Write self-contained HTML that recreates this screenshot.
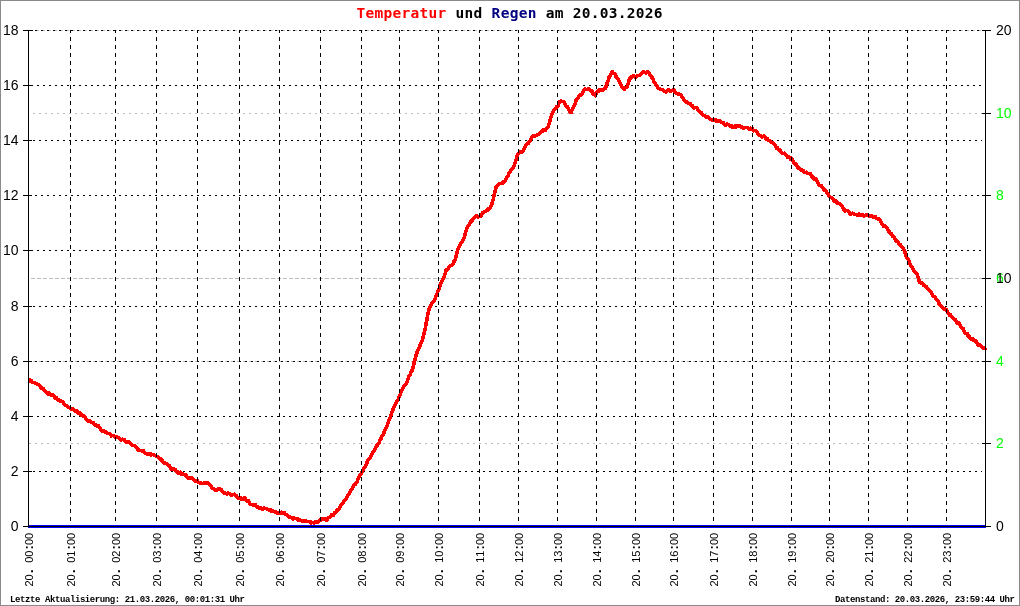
<!DOCTYPE html>
<html lang="de"><head><meta charset="utf-8"><title>Temperatur und Regen am 20.03.2026</title>
<style>
html,body{margin:0;padding:0;background:#fff;}
body{width:1020px;height:606px;overflow:hidden;}
svg{display:block;will-change:transform;}
.ax{font-family:"Liberation Sans",sans-serif;font-size:14px;fill:#000;}
.xl{white-space:pre;font-family:"Liberation Sans",sans-serif;font-size:11px;fill:#000;}
.pp{font-weight:bold;font-size:13px;}
.ti{font-family:"DejaVu Sans Mono","Liberation Mono",monospace;font-weight:bold;font-size:14.5px;}
.ft{font-family:"Liberation Mono","DejaVu Sans Mono",monospace;font-weight:bold;font-size:9px;fill:#000;}
</style></head><body>
<svg width="1020" height="606" viewBox="0 0 1020 606">
<rect x="0" y="0" width="1020" height="606" fill="#fff"/>
<g shape-rendering="crispEdges" fill="none">
<rect x="0.5" y="0.5" width="1019" height="605" stroke="#8a8a8a"/>

<g stroke="#bcbcbc" stroke-width="1">
<line x1="37" y1="30.5" x2="985" y2="30.5" stroke-dasharray="2 4"/>
<line x1="33" y1="113.5" x2="985" y2="113.5" stroke-dasharray="2 4"/>
<line x1="35" y1="195.5" x2="985" y2="195.5" stroke-dasharray="2 4"/>
<line x1="31" y1="278.5" x2="985" y2="278.5" stroke-dasharray="4 2"/>
<line x1="33" y1="361.5" x2="985" y2="361.5" stroke-dasharray="2 4"/>
<line x1="29" y1="443.5" x2="985" y2="443.5" stroke-dasharray="2 4"/>
</g>
<g stroke="#000" stroke-width="1" stroke-dasharray="2 4">
<line x1="33" y1="471.5" x2="982" y2="471.5"/>
<line x1="31" y1="416.5" x2="982" y2="416.5"/>
<line x1="35" y1="361.5" x2="982" y2="361.5"/>
<line x1="33" y1="306.5" x2="982" y2="306.5"/>
<line x1="31" y1="250.5" x2="982" y2="250.5"/>
<line x1="35" y1="195.5" x2="982" y2="195.5"/>
<line x1="33" y1="140.5" x2="982" y2="140.5"/>
<line x1="31" y1="85.5" x2="982" y2="85.5"/>
<line x1="35" y1="30.5" x2="982" y2="30.5"/>
</g>
</g>
<polyline points="28.3,379.6 29.3,379.7 30.3,381.1 31.3,380.8 32.3,382.0 33.3,382.4 34.3,382.3 35.3,383.6 36.3,383.4 37.3,384.6 38.3,384.8 39.3,385.4 40.3,386.7 41.3,388.5 42.3,388.2 43.3,388.7 44.3,390.2 45.3,391.9 46.3,392.2 47.3,392.4 48.3,394.0 49.3,393.1 50.3,394.9 51.3,394.8 52.3,394.9 53.3,395.3 54.3,396.3 55.3,398.1 56.3,397.8 57.3,399.0 58.3,400.0 59.3,400.3 60.3,401.3 61.3,401.1 62.3,401.6 63.3,402.5 64.3,404.4 65.3,405.0 66.3,405.5 67.3,406.7 68.3,407.4 69.3,407.4 70.3,408.7 71.3,409.3 72.3,408.7 73.3,409.5 74.3,409.9 75.3,411.1 76.3,411.4 77.3,411.1 78.3,413.1 79.3,412.5 80.3,413.5 81.3,415.1 82.3,414.9 83.3,416.1 84.3,416.1 85.3,418.0 86.3,419.4 87.3,419.9 88.3,421.0 89.3,420.5 90.3,421.5 91.3,422.0 92.3,422.5 93.3,422.8 94.3,424.0 95.3,425.1 96.3,425.2 97.3,426.1 98.3,425.8 99.3,427.5 100.3,428.6 101.3,430.3 102.3,431.0 103.3,430.7 104.3,431.2 105.3,432.4 106.3,431.9 107.3,433.1 108.3,433.3 109.3,433.7 110.3,434.2 111.3,436.0 112.3,435.4 113.3,435.6 114.3,436.1 115.3,437.4 116.3,436.4 117.3,436.9 118.3,437.5 119.3,438.8 120.3,439.4 121.3,440.0 122.3,439.2 123.3,439.6 124.3,439.8 125.3,441.3 126.3,442.3 127.3,441.4 128.3,441.6 129.3,442.3 130.3,443.0 131.3,444.2 132.3,445.3 133.3,445.4 134.3,445.4 135.3,446.7 136.3,447.5 137.3,448.6 138.3,450.0 139.3,450.3 140.3,450.3 141.3,450.8 142.3,451.4 143.3,450.6 144.3,452.4 145.3,453.1 146.3,453.9 147.3,454.3 148.3,453.8 149.3,454.0 150.3,453.7 151.3,455.0 152.3,454.6 153.3,454.7 154.3,455.4 155.3,455.8 156.3,456.6 157.3,456.7 158.3,457.2 159.3,458.1 160.3,458.7 161.3,460.0 162.3,460.2 163.3,462.5 164.3,463.2 165.3,462.9 166.3,463.5 167.3,464.4 168.3,465.2 169.3,465.4 170.3,467.5 171.3,469.0 172.3,468.8 173.3,469.3 174.3,469.2 175.3,469.7 176.3,470.9 177.3,471.5 178.3,473.1 179.3,472.5 180.3,472.2 181.3,474.4 182.3,474.5 183.3,474.0 184.3,474.9 185.3,474.4 186.3,475.7 187.3,477.4 188.3,478.1 189.3,478.3 190.3,477.8 191.3,478.1 192.3,478.1 193.3,479.7 194.3,480.0 195.3,481.0 196.3,480.6 197.3,480.6 198.3,481.9 199.3,482.9 200.3,483.1 201.3,483.2 202.3,483.4 203.3,483.4 204.3,482.5 205.3,482.9 206.3,482.9 207.3,482.7 208.3,483.1 209.3,484.3 210.3,485.2 211.3,486.9 212.3,488.5 213.3,488.5 214.3,489.6 215.3,490.2 216.3,490.5 217.3,489.5 218.3,489.1 219.3,489.1 220.3,489.2 221.3,489.7 222.3,491.1 223.3,492.4 224.3,493.1 225.3,492.9 226.3,493.5 227.3,494.2 228.3,492.9 229.3,493.8 230.3,494.7 231.3,494.8 232.3,494.9 233.3,494.4 234.3,494.2 235.3,495.7 236.3,495.7 237.3,497.0 238.3,498.2 239.3,497.7 240.3,497.7 241.3,499.0 242.3,499.2 243.3,498.3 244.3,498.1 245.3,498.2 246.3,500.1 247.3,501.1 248.3,500.7 249.3,502.6 250.3,504.1 251.3,504.6 252.3,504.4 253.3,504.9 254.3,504.5 255.3,504.4 256.3,506.6 257.3,506.9 258.3,507.1 259.3,508.2 260.3,507.8 261.3,508.7 262.3,509.2 263.3,508.2 264.3,508.2 265.3,508.4 266.3,508.6 267.3,509.6 268.3,509.5 269.3,509.9 270.3,509.6 271.3,511.3 272.3,510.8 273.3,511.1 274.3,511.6 275.3,512.6 276.3,512.1 277.3,513.1 278.3,512.8 279.3,512.9 280.3,513.1 281.3,512.2 282.3,513.0 283.3,512.9 284.3,512.7 285.3,514.5 286.3,514.3 287.3,515.2 288.3,516.4 289.3,516.9 290.3,516.9 291.3,517.7 292.3,518.2 293.3,519.0 294.3,518.0 295.3,518.7 296.3,518.5 297.3,518.6 298.3,519.9 299.3,519.9 300.3,520.2 301.3,520.8 302.3,521.5 303.3,520.8 304.3,521.1 305.3,521.0 306.3,521.2 307.3,521.7 308.3,521.5 309.3,521.7 310.3,521.7 311.3,522.9 312.3,522.6 313.3,522.8 314.3,522.9 315.3,521.3 316.3,521.3 317.3,522.0 318.3,521.9 319.3,520.3 320.3,519.6 321.3,519.9 322.3,519.1 323.3,519.0 324.3,518.5 325.3,519.4 326.3,519.9 327.3,519.8 328.3,517.6 329.3,517.6 330.3,516.9 331.3,515.1 332.3,515.6 333.3,515.4 334.3,513.0 335.3,512.9 336.3,511.1 337.3,509.9 338.3,509.9 339.3,508.8 340.3,506.3 341.3,505.1 342.3,504.1 343.3,502.5 344.3,500.9 345.3,499.7 346.3,498.9 347.3,496.1 348.3,495.1 349.3,493.5 350.3,490.9 351.3,489.6 352.3,488.7 353.3,487.0 354.3,484.5 355.3,484.4 356.3,482.9 357.3,481.6 358.3,478.3 359.3,476.4 360.3,474.1 361.3,473.7 362.3,471.3 363.3,469.1 364.3,467.5 365.3,466.7 366.3,464.9 367.3,461.8 368.3,459.2 369.3,459.1 370.3,457.4 371.3,456.0 372.3,453.3 373.3,451.3 374.3,450.6 375.3,448.7 376.3,446.0 377.3,445.7 378.3,443.8 379.3,442.3 380.3,439.0 381.3,438.3 382.3,435.2 383.3,434.4 384.3,431.7 385.3,429.0 386.3,427.0 387.3,425.6 388.3,422.1 389.3,419.0 390.3,417.2 391.3,414.4 392.3,411.4 393.3,408.8 394.3,406.0 395.3,404.2 396.3,402.5 397.3,400.5 398.3,399.5 399.3,396.4 400.3,394.1 401.3,391.1 402.3,389.3 403.3,387.2 404.3,386.0 405.3,384.1 406.3,383.9 407.3,381.6 408.3,377.9 409.3,375.3 410.3,374.4 411.3,371.1 412.3,370.2 413.3,366.7 414.3,361.4 415.3,358.7 416.3,354.7 417.3,351.8 418.3,349.7 419.3,347.9 420.3,344.3 421.3,342.5 422.3,339.9 423.3,336.7 424.3,332.5 425.3,328.2 426.3,322.5 427.3,317.3 428.3,311.8 429.3,308.2 430.3,306.0 431.3,304.0 432.3,302.1 433.3,302.0 434.3,300.6 435.3,298.4 436.3,295.5 437.3,293.1 438.3,290.4 439.3,288.0 440.3,284.7 441.3,282.6 442.3,279.9 443.3,278.8 444.3,276.8 445.3,273.1 446.3,269.4 447.3,269.8 448.3,268.1 449.3,267.1 450.3,265.5 451.3,265.3 452.3,264.9 453.3,263.3 454.3,260.7 455.3,259.1 456.3,255.0 457.3,251.0 458.3,248.4 459.3,247.1 460.3,244.7 461.3,242.8 462.3,241.8 463.3,239.5 464.3,237.1 465.3,233.7 466.3,229.8 467.3,227.2 468.3,225.9 469.3,224.8 470.3,222.5 471.3,220.8 472.3,220.8 473.3,218.3 474.3,217.9 475.3,217.1 476.3,215.7 477.3,216.7 478.3,217.1 479.3,216.5 480.3,216.2 481.3,215.4 482.3,213.1 483.3,212.4 484.3,211.5 485.3,211.3 486.3,210.8 487.3,210.3 488.3,209.1 489.3,209.0 490.3,207.7 491.3,205.7 492.3,202.7 493.3,199.1 494.3,194.1 495.3,190.4 496.3,186.2 497.3,185.5 498.3,184.4 499.3,183.6 500.3,183.6 501.3,183.7 502.3,183.2 503.3,182.0 504.3,181.7 505.3,180.4 506.3,178.4 507.3,176.6 508.3,175.1 509.3,172.2 510.3,171.6 511.3,169.9 512.3,168.3 513.3,167.4 514.3,165.6 515.3,162.1 516.3,159.2 517.3,155.3 518.3,153.3 519.3,152.4 520.3,152.0 521.3,152.0 522.3,151.8 523.3,150.3 524.3,149.0 525.3,146.5 526.3,144.9 527.3,143.7 528.3,143.5 529.3,141.7 530.3,140.8 531.3,138.5 532.3,136.9 533.3,136.0 534.3,135.8 535.3,135.9 536.3,135.6 537.3,134.5 538.3,134.4 539.3,134.0 540.3,133.0 541.3,131.2 542.3,131.6 543.3,129.6 544.3,130.4 545.3,130.4 546.3,128.2 547.3,128.1 548.3,126.2 549.3,123.5 550.3,119.5 551.3,116.0 552.3,112.8 553.3,111.5 554.3,109.5 555.3,108.9 556.3,107.1 557.3,106.7 558.3,105.7 559.3,102.0 560.3,101.3 561.3,101.0 562.3,101.7 563.3,101.5 564.3,102.2 565.3,105.0 566.3,106.2 567.3,106.7 568.3,107.9 569.3,110.4 570.3,112.2 571.3,112.4 572.3,109.5 573.3,107.3 574.3,104.9 575.3,103.5 576.3,99.6 577.3,98.2 578.3,97.5 579.3,95.2 580.3,95.4 581.3,94.4 582.3,93.7 583.3,91.4 584.3,90.1 585.3,88.9 586.3,89.7 587.3,89.4 588.3,89.0 589.3,89.1 590.3,90.0 591.3,90.7 592.3,91.8 593.3,94.1 594.3,94.0 595.3,95.8 596.3,93.5 597.3,92.0 598.3,91.2 599.3,89.5 600.3,89.3 601.3,90.2 602.3,90.1 603.3,89.7 604.3,88.9 605.3,88.3 606.3,85.8 607.3,82.4 608.3,79.9 609.3,76.5 610.3,75.5 611.3,73.3 612.3,71.8 613.3,73.2 614.3,73.8 615.3,74.5 616.3,77.5 617.3,78.0 618.3,80.0 619.3,81.6 620.3,83.1 621.3,85.4 622.3,87.6 623.3,87.8 624.3,89.4 625.3,88.0 626.3,87.6 627.3,86.6 628.3,83.2 629.3,79.7 630.3,77.2 631.3,78.0 632.3,77.1 633.3,75.8 634.3,76.5 635.3,77.3 636.3,76.5 637.3,75.7 638.3,75.7 639.3,75.4 640.3,74.9 641.3,73.6 642.3,72.8 643.3,72.0 644.3,71.9 645.3,72.8 646.3,72.8 647.3,72.1 648.3,71.9 649.3,73.7 650.3,75.2 651.3,76.7 652.3,77.8 653.3,79.7 654.3,82.9 655.3,83.3 656.3,85.3 657.3,86.8 658.3,88.5 659.3,88.4 660.3,89.2 661.3,89.4 662.3,89.8 663.3,90.2 664.3,91.4 665.3,91.8 666.3,92.0 667.3,90.4 668.3,89.7 669.3,90.8 670.3,91.5 671.3,90.8 672.3,90.7 673.3,89.3 674.3,90.3 675.3,92.2 676.3,93.0 677.3,93.8 678.3,94.7 679.3,94.3 680.3,94.5 681.3,95.3 682.3,97.0 683.3,98.6 684.3,100.3 685.3,101.1 686.3,101.7 687.3,102.8 688.3,103.0 689.3,103.9 690.3,103.7 691.3,105.7 692.3,105.7 693.3,107.5 694.3,107.9 695.3,107.7 696.3,107.6 697.3,108.3 698.3,110.2 699.3,111.8 700.3,111.9 701.3,112.6 702.3,114.2 703.3,115.3 704.3,115.7 705.3,115.9 706.3,117.2 707.3,116.7 708.3,117.3 709.3,118.0 710.3,119.5 711.3,119.6 712.3,120.4 713.3,120.0 714.3,119.6 715.3,119.6 716.3,121.3 717.3,121.6 718.3,121.1 719.3,120.5 720.3,121.5 721.3,122.5 722.3,122.7 723.3,122.7 724.3,123.9 725.3,125.2 726.3,124.6 727.3,124.1 728.3,124.8 729.3,125.3 730.3,126.3 731.3,125.8 732.3,127.1 733.3,127.2 734.3,126.7 735.3,125.7 736.3,126.9 737.3,125.8 738.3,126.4 739.3,125.8 740.3,125.8 741.3,127.1 742.3,126.8 743.3,128.3 744.3,128.1 745.3,127.5 746.3,127.4 747.3,127.8 748.3,128.5 749.3,129.5 750.3,128.2 751.3,128.3 752.3,128.5 753.3,130.8 754.3,130.4 755.3,130.7 756.3,131.3 757.3,132.6 758.3,134.4 759.3,135.3 760.3,135.6 761.3,136.6 762.3,137.1 763.3,136.3 764.3,136.0 765.3,138.0 766.3,139.0 767.3,138.4 768.3,140.1 769.3,140.7 770.3,141.5 771.3,142.3 772.3,142.8 773.3,143.2 774.3,144.5 775.3,145.6 776.3,147.9 777.3,147.6 778.3,149.9 779.3,149.8 780.3,150.6 781.3,152.3 782.3,153.4 783.3,153.5 784.3,153.2 785.3,154.5 786.3,155.1 787.3,156.9 788.3,156.5 789.3,157.1 790.3,158.9 791.3,158.1 792.3,159.7 793.3,162.0 794.3,163.7 795.3,163.7 796.3,164.6 797.3,165.9 798.3,168.4 799.3,168.1 800.3,169.5 801.3,170.6 802.3,170.2 803.3,170.3 804.3,172.1 805.3,172.4 806.3,172.2 807.3,173.4 808.3,173.4 809.3,173.7 810.3,173.7 811.3,175.6 812.3,177.0 813.3,177.3 814.3,179.1 815.3,178.6 816.3,179.6 817.3,181.3 818.3,183.7 819.3,185.4 820.3,185.5 821.3,185.8 822.3,187.0 823.3,188.2 824.3,190.2 825.3,189.9 826.3,191.8 827.3,193.2 828.3,194.7 829.3,196.0 830.3,196.9 831.3,197.5 832.3,198.5 833.3,199.4 834.3,201.0 835.3,200.6 836.3,201.2 837.3,203.1 838.3,203.2 839.3,203.4 840.3,203.9 841.3,205.8 842.3,206.5 843.3,208.7 844.3,209.8 845.3,211.0 846.3,210.5 847.3,210.5 848.3,211.1 849.3,212.7 850.3,214.0 851.3,213.8 852.3,213.3 853.3,213.6 854.3,214.1 855.3,214.5 856.3,214.8 857.3,215.3 858.3,215.2 859.3,214.1 860.3,215.4 861.3,214.8 862.3,215.3 863.3,215.2 864.3,216.1 865.3,215.3 866.3,215.2 867.3,215.2 868.3,215.0 869.3,216.5 870.3,216.4 871.3,215.9 872.3,215.9 873.3,217.2 874.3,217.0 875.3,216.7 876.3,218.0 877.3,218.4 878.3,219.5 879.3,219.2 880.3,220.6 881.3,222.7 882.3,224.3 883.3,225.9 884.3,225.4 885.3,226.4 886.3,227.1 887.3,228.2 888.3,230.9 889.3,231.8 890.3,233.5 891.3,233.8 892.3,235.9 893.3,236.7 894.3,237.6 895.3,239.7 896.3,241.5 897.3,241.0 898.3,242.5 899.3,244.2 900.3,244.8 901.3,246.3 902.3,247.2 903.3,248.6 904.3,250.2 905.3,253.5 906.3,256.4 907.3,258.2 908.3,259.6 909.3,262.0 910.3,264.8 911.3,266.1 912.3,267.7 913.3,269.0 914.3,271.5 915.3,272.9 916.3,273.2 917.3,274.4 918.3,278.0 919.3,281.7 920.3,282.8 921.3,282.6 922.3,283.1 923.3,284.9 924.3,285.5 925.3,285.9 926.3,286.6 927.3,288.9 928.3,289.0 929.3,290.3 930.3,291.0 931.3,292.1 932.3,294.3 933.3,296.2 934.3,296.4 935.3,297.1 936.3,299.5 937.3,300.2 938.3,301.0 939.3,304.2 940.3,305.2 941.3,306.9 942.3,307.1 943.3,308.8 944.3,309.1 945.3,309.1 946.3,309.4 947.3,311.4 948.3,313.1 949.3,315.0 950.3,314.7 951.3,316.5 952.3,317.4 953.3,318.7 954.3,318.9 955.3,319.8 956.3,321.2 957.3,323.1 958.3,322.6 959.3,323.8 960.3,325.9 961.3,327.9 962.3,327.9 963.3,328.7 964.3,331.5 965.3,333.3 966.3,333.7 967.3,333.7 968.3,336.3 969.3,336.8 970.3,338.3 971.3,338.7 972.3,339.8 973.3,339.2 974.3,340.8 975.3,340.7 976.3,341.8 977.3,343.7 978.3,345.0 979.3,344.8 980.3,345.3 981.3,346.3 982.3,347.4 983.3,347.9 984.3,348.1 985.3,348.9 985.3,349.7" fill="none" stroke="#ff0000" stroke-width="3.6" stroke-linejoin="round" stroke-linecap="butt" shape-rendering="crispEdges"/>
<g shape-rendering="crispEdges" fill="none" stroke="#000" stroke-width="1" stroke-dasharray="4 4">
<line x1="70.5" y1="30" x2="70.5" y2="525" stroke-dashoffset="1"/>
<line x1="115.5" y1="30" x2="115.5" y2="525" stroke-dashoffset="1"/>
<line x1="156.5" y1="30" x2="156.5" y2="525" stroke-dashoffset="1"/>
<line x1="197.5" y1="30" x2="197.5" y2="525" stroke-dashoffset="1"/>
<line x1="239.5" y1="30" x2="239.5" y2="525" stroke-dashoffset="1"/>
<line x1="279.5" y1="30" x2="279.5" y2="525" stroke-dashoffset="1"/>
<line x1="320.5" y1="30" x2="320.5" y2="525" stroke-dashoffset="1"/>
<line x1="361.5" y1="30" x2="361.5" y2="525" stroke-dashoffset="1"/>
<line x1="399.5" y1="30" x2="399.5" y2="525" stroke-dashoffset="1"/>
<line x1="438.5" y1="30" x2="438.5" y2="525" stroke-dashoffset="1"/>
<line x1="479.5" y1="30" x2="479.5" y2="525" stroke-dashoffset="1"/>
<line x1="518.5" y1="30" x2="518.5" y2="525" stroke-dashoffset="1"/>
<line x1="557.5" y1="30" x2="557.5" y2="525" stroke-dashoffset="1"/>
<line x1="596.5" y1="30" x2="596.5" y2="525" stroke-dashoffset="1"/>
<line x1="635.5" y1="30" x2="635.5" y2="525" stroke-dashoffset="1"/>
<line x1="673.5" y1="30" x2="673.5" y2="525" stroke-dashoffset="1"/>
<line x1="713.5" y1="30" x2="713.5" y2="525" stroke-dashoffset="1"/>
<line x1="752.5" y1="30" x2="752.5" y2="525" stroke-dashoffset="1"/>
<line x1="791.5" y1="30" x2="791.5" y2="525" stroke-dashoffset="1"/>
<line x1="829.5" y1="30" x2="829.5" y2="525" stroke-dashoffset="1"/>
<line x1="868.5" y1="30" x2="868.5" y2="525" stroke-dashoffset="1"/>
<line x1="907.5" y1="30" x2="907.5" y2="525" stroke-dashoffset="1"/>
<line x1="946.5" y1="30" x2="946.5" y2="525" stroke-dashoffset="1"/>
</g>
<g shape-rendering="crispEdges">
<rect x="28" y="525" width="958" height="3" fill="#0000ff"/>
<rect x="28" y="526" width="958" height="1" fill="#000"/>
<rect x="28" y="30" width="1" height="497" fill="#000"/>
<rect x="985" y="30" width="1" height="497" fill="#000"/>
<rect x="23" y="526" width="9" height="1" fill="#000"/>
<rect x="23" y="471" width="9" height="1" fill="#000"/>
<rect x="23" y="416" width="9" height="1" fill="#000"/>
<rect x="23" y="361" width="9" height="1" fill="#000"/>
<rect x="23" y="306" width="9" height="1" fill="#000"/>
<rect x="23" y="250" width="9" height="1" fill="#000"/>
<rect x="23" y="195" width="9" height="1" fill="#000"/>
<rect x="23" y="140" width="9" height="1" fill="#000"/>
<rect x="23" y="85" width="9" height="1" fill="#000"/>
<rect x="23" y="30" width="10" height="1" fill="#000"/>
<rect x="982" y="30" width="9" height="1" fill="#000"/>
<rect x="982" y="113" width="9" height="1" fill="#000"/>
<rect x="982" y="195" width="9" height="1" fill="#000"/>
<rect x="982" y="278" width="9" height="1" fill="#000"/>
<rect x="982" y="361" width="9" height="1" fill="#000"/>
<rect x="982" y="443" width="9" height="1" fill="#000"/>
<rect x="982" y="526" width="9" height="1" fill="#000"/>
</g>
<text class="ax" x="18.5" y="531" text-anchor="end">0</text>
<text class="ax" x="18.5" y="476" text-anchor="end">2</text>
<text class="ax" x="18.5" y="421" text-anchor="end">4</text>
<text class="ax" x="18.5" y="366" text-anchor="end">6</text>
<text class="ax" x="18.5" y="311" text-anchor="end">8</text>
<text class="ax" x="18.5" y="255" text-anchor="end">10</text>
<text class="ax" x="18.5" y="200" text-anchor="end">12</text>
<text class="ax" x="18.5" y="145" text-anchor="end">14</text>
<text class="ax" x="18.5" y="90" text-anchor="end">16</text>
<text class="ax" x="18.5" y="35" text-anchor="end">18</text>
<text class="ax" x="996" y="118" style="fill:#00ff00">10</text>
<text class="ax" x="996" y="200" style="fill:#00ff00">8</text>
<text class="ax" x="996" y="283" style="fill:#00ff00">6</text>
<text class="ax" x="996" y="366" style="fill:#00ff00">4</text>
<text class="ax" x="996" y="448" style="fill:#00ff00">2</text>
<text class="ax" x="996" y="35">20</text>
<text class="ax" x="996" y="283">10</text>
<text class="ax" x="996" y="531">0</text>
<text class="xl" transform="translate(33,586.5) rotate(-90)"><tspan x="0 5.94">20</tspan><tspan class="pp" x="13.48">.</tspan><tspan x="17.82 23.76 29.70"> 00</tspan><tspan class="pp" x="37.14">:</tspan><tspan x="41.58 47.52">00</tspan></text>
<text class="xl" transform="translate(75,586.5) rotate(-90)"><tspan x="0 5.94">20</tspan><tspan class="pp" x="13.48">.</tspan><tspan x="17.82 23.76 29.70"> 01</tspan><tspan class="pp" x="37.14">:</tspan><tspan x="41.58 47.52">00</tspan></text>
<text class="xl" transform="translate(120,586.5) rotate(-90)"><tspan x="0 5.94">20</tspan><tspan class="pp" x="13.48">.</tspan><tspan x="17.82 23.76 29.70"> 02</tspan><tspan class="pp" x="37.14">:</tspan><tspan x="41.58 47.52">00</tspan></text>
<text class="xl" transform="translate(161,586.5) rotate(-90)"><tspan x="0 5.94">20</tspan><tspan class="pp" x="13.48">.</tspan><tspan x="17.82 23.76 29.70"> 03</tspan><tspan class="pp" x="37.14">:</tspan><tspan x="41.58 47.52">00</tspan></text>
<text class="xl" transform="translate(202,586.5) rotate(-90)"><tspan x="0 5.94">20</tspan><tspan class="pp" x="13.48">.</tspan><tspan x="17.82 23.76 29.70"> 04</tspan><tspan class="pp" x="37.14">:</tspan><tspan x="41.58 47.52">00</tspan></text>
<text class="xl" transform="translate(244,586.5) rotate(-90)"><tspan x="0 5.94">20</tspan><tspan class="pp" x="13.48">.</tspan><tspan x="17.82 23.76 29.70"> 05</tspan><tspan class="pp" x="37.14">:</tspan><tspan x="41.58 47.52">00</tspan></text>
<text class="xl" transform="translate(284,586.5) rotate(-90)"><tspan x="0 5.94">20</tspan><tspan class="pp" x="13.48">.</tspan><tspan x="17.82 23.76 29.70"> 06</tspan><tspan class="pp" x="37.14">:</tspan><tspan x="41.58 47.52">00</tspan></text>
<text class="xl" transform="translate(325,586.5) rotate(-90)"><tspan x="0 5.94">20</tspan><tspan class="pp" x="13.48">.</tspan><tspan x="17.82 23.76 29.70"> 07</tspan><tspan class="pp" x="37.14">:</tspan><tspan x="41.58 47.52">00</tspan></text>
<text class="xl" transform="translate(366,586.5) rotate(-90)"><tspan x="0 5.94">20</tspan><tspan class="pp" x="13.48">.</tspan><tspan x="17.82 23.76 29.70"> 08</tspan><tspan class="pp" x="37.14">:</tspan><tspan x="41.58 47.52">00</tspan></text>
<text class="xl" transform="translate(404,586.5) rotate(-90)"><tspan x="0 5.94">20</tspan><tspan class="pp" x="13.48">.</tspan><tspan x="17.82 23.76 29.70"> 09</tspan><tspan class="pp" x="37.14">:</tspan><tspan x="41.58 47.52">00</tspan></text>
<text class="xl" transform="translate(443,586.5) rotate(-90)"><tspan x="0 5.94">20</tspan><tspan class="pp" x="13.48">.</tspan><tspan x="17.82 23.76 29.70"> 10</tspan><tspan class="pp" x="37.14">:</tspan><tspan x="41.58 47.52">00</tspan></text>
<text class="xl" transform="translate(484,586.5) rotate(-90)"><tspan x="0 5.94">20</tspan><tspan class="pp" x="13.48">.</tspan><tspan x="17.82 23.76 29.70"> 11</tspan><tspan class="pp" x="37.14">:</tspan><tspan x="41.58 47.52">00</tspan></text>
<text class="xl" transform="translate(523,586.5) rotate(-90)"><tspan x="0 5.94">20</tspan><tspan class="pp" x="13.48">.</tspan><tspan x="17.82 23.76 29.70"> 12</tspan><tspan class="pp" x="37.14">:</tspan><tspan x="41.58 47.52">00</tspan></text>
<text class="xl" transform="translate(562,586.5) rotate(-90)"><tspan x="0 5.94">20</tspan><tspan class="pp" x="13.48">.</tspan><tspan x="17.82 23.76 29.70"> 13</tspan><tspan class="pp" x="37.14">:</tspan><tspan x="41.58 47.52">00</tspan></text>
<text class="xl" transform="translate(601,586.5) rotate(-90)"><tspan x="0 5.94">20</tspan><tspan class="pp" x="13.48">.</tspan><tspan x="17.82 23.76 29.70"> 14</tspan><tspan class="pp" x="37.14">:</tspan><tspan x="41.58 47.52">00</tspan></text>
<text class="xl" transform="translate(640,586.5) rotate(-90)"><tspan x="0 5.94">20</tspan><tspan class="pp" x="13.48">.</tspan><tspan x="17.82 23.76 29.70"> 15</tspan><tspan class="pp" x="37.14">:</tspan><tspan x="41.58 47.52">00</tspan></text>
<text class="xl" transform="translate(678,586.5) rotate(-90)"><tspan x="0 5.94">20</tspan><tspan class="pp" x="13.48">.</tspan><tspan x="17.82 23.76 29.70"> 16</tspan><tspan class="pp" x="37.14">:</tspan><tspan x="41.58 47.52">00</tspan></text>
<text class="xl" transform="translate(718,586.5) rotate(-90)"><tspan x="0 5.94">20</tspan><tspan class="pp" x="13.48">.</tspan><tspan x="17.82 23.76 29.70"> 17</tspan><tspan class="pp" x="37.14">:</tspan><tspan x="41.58 47.52">00</tspan></text>
<text class="xl" transform="translate(757,586.5) rotate(-90)"><tspan x="0 5.94">20</tspan><tspan class="pp" x="13.48">.</tspan><tspan x="17.82 23.76 29.70"> 18</tspan><tspan class="pp" x="37.14">:</tspan><tspan x="41.58 47.52">00</tspan></text>
<text class="xl" transform="translate(796,586.5) rotate(-90)"><tspan x="0 5.94">20</tspan><tspan class="pp" x="13.48">.</tspan><tspan x="17.82 23.76 29.70"> 19</tspan><tspan class="pp" x="37.14">:</tspan><tspan x="41.58 47.52">00</tspan></text>
<text class="xl" transform="translate(834,586.5) rotate(-90)"><tspan x="0 5.94">20</tspan><tspan class="pp" x="13.48">.</tspan><tspan x="17.82 23.76 29.70"> 20</tspan><tspan class="pp" x="37.14">:</tspan><tspan x="41.58 47.52">00</tspan></text>
<text class="xl" transform="translate(873,586.5) rotate(-90)"><tspan x="0 5.94">20</tspan><tspan class="pp" x="13.48">.</tspan><tspan x="17.82 23.76 29.70"> 21</tspan><tspan class="pp" x="37.14">:</tspan><tspan x="41.58 47.52">00</tspan></text>
<text class="xl" transform="translate(912,586.5) rotate(-90)"><tspan x="0 5.94">20</tspan><tspan class="pp" x="13.48">.</tspan><tspan x="17.82 23.76 29.70"> 22</tspan><tspan class="pp" x="37.14">:</tspan><tspan x="41.58 47.52">00</tspan></text>
<text class="xl" transform="translate(951,586.5) rotate(-90)"><tspan x="0 5.94">20</tspan><tspan class="pp" x="13.48">.</tspan><tspan x="17.82 23.76 29.70"> 23</tspan><tspan class="pp" x="37.14">:</tspan><tspan x="41.58 47.52">00</tspan></text>
<text class="ti" x="356.5" y="18" textLength="306" lengthAdjust="spacing" xml:space="preserve"><tspan fill="#ff0000">Temperatur</tspan><tspan fill="#000"> und </tspan><tspan fill="#000080">Regen</tspan><tspan fill="#000"> am 20.03.2026</tspan></text>
<text class="ft" x="10" y="602" textLength="235" lengthAdjust="spacing">Letzte Aktualisierung: 21.03.2026, 00:01:31 Uhr</text>
<text class="ft" x="835" y="602" textLength="180" lengthAdjust="spacing">Datenstand: 20.03.2026, 23:59:44 Uhr</text>
</svg></body></html>
